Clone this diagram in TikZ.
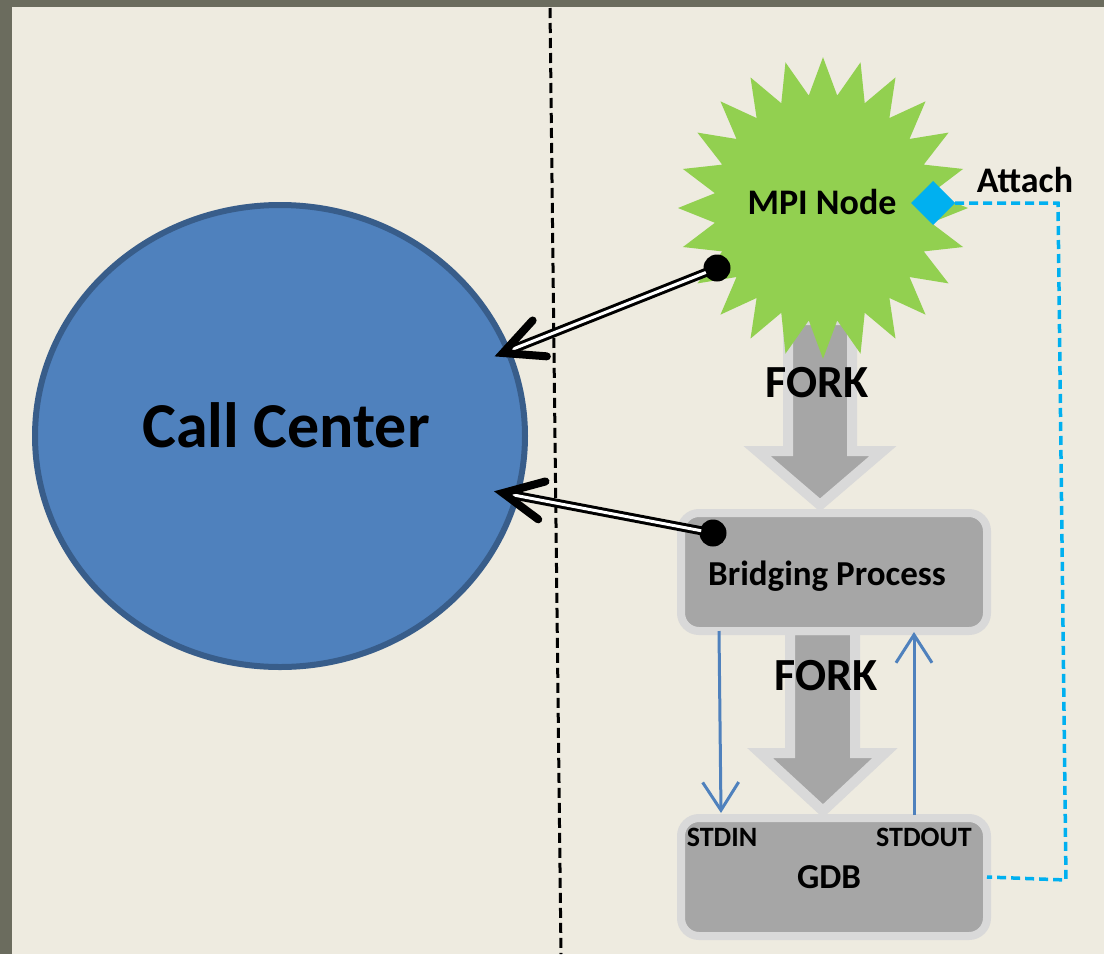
\documentclass[tikz,border=0pt]{standalone}
\usepackage{fontspec}
\setmainfont{Carlito}
\usetikzlibrary{shapes.geometric,arrows.meta,calc}
\definecolor{bg}{HTML}{EEEBE0}
\definecolor{framec}{HTML}{6B6C5E}
\definecolor{ccfill}{HTML}{4F81BD}
\definecolor{ccedge}{HTML}{385D8A}
\definecolor{mpigreen}{HTML}{92D050}
\definecolor{cyanx}{HTML}{00B0F0}
\definecolor{boxgray}{HTML}{A6A6A6}
\definecolor{glow}{HTML}{D9D9D9}
\definecolor{iob}{HTML}{4F81BD}
\begin{document}
\begin{tikzpicture}[x=1pt,y=-1pt,
  lbl/.style={inner sep=0, anchor=base, text=black},
  procbox/.style={rectangle, rounded corners=18pt, fill=boxgray, draw=glow, line width=8pt,
     minimum width=306pt, minimum height=118pt, inner sep=0, outer sep=0},
  forkarrow/.style={fill=boxgray, draw=glow, line width=10pt, line join=miter},
  dbl/.style={double=white, draw=black, line width=3pt, double distance=3pt},
  barb/.style={draw=black, line width=8pt, line cap=round, line join=miter},
  ioline/.style={draw=iob, line width=3pt, -{Straight Barb[length=28pt,width=36pt]}},
  attachline/.style={draw=cyanx, line width=3.5pt, dash pattern=on 9pt off 5pt},
  divider/.style={draw=black, line width=3pt, dash pattern=on 10pt off 5pt},
  dotnode/.style={circle, fill=black, minimum size=27pt, inner sep=0, outer sep=0}]
\useasboundingbox (0,0) rectangle (1104,954);
% background and frame
\fill[bg] (0,0) rectangle (1104,954);
\fill[framec] (0,0) rectangle (12,954);
\fill[framec] (0,0) rectangle (1104,7);
% divider
\draw[divider] (550,8) -- (561,954);
% call center
\node[ellipse, fill=ccfill, draw=ccedge, line width=6pt, minimum width=490pt, minimum height=462pt,
      inner sep=0, outer sep=0] (cc) at (280,436) {};
\node[lbl, font=\bfseries\fontsize{64}{70}\selectfont] (cclbl) at (286,447) {Call Center};
% fork arrow 1 (behind star)
\draw[forkarrow] (788,320) -- (852,320) -- (852,451) -- (883,451) -- (820,505) -- (757,451) -- (788,451) -- cycle;
% MPI star
\node[star, star points=24, star point ratio=1.33, minimum size=290pt, yscale=1.04,
      fill=mpigreen, inner sep=0, outer sep=0] (mpi) at (823,208) {};
\node[lbl, font=\bfseries\fontsize{36}{40}\selectfont] (mpilbl) at (822,214) {MPI Node};
\node[diamond, fill=cyanx, minimum size=44pt, inner sep=0, outer sep=0] (hook) at (933,203) {};
\node[lbl, font=\bfseries\fontsize{36}{40}\selectfont] (attachlbl) at (1025,192) {Attach};
\node[lbl, font=\bfseries\fontsize{46}{50}\selectfont] (fork1) at (817,397) {FORK};
% fork arrow 2
\draw[forkarrow] (790,630) -- (855,630) -- (855,753) -- (885,753) -- (823,811) -- (760,753) -- (790,753) -- cycle;
% boxes
\node[procbox] (bridge) at (834,572) {};
\node[lbl, font=\bfseries\fontsize{35}{40}\selectfont] (bridgelbl) at (827,585) {Bridging Process};
\node[procbox] (gdb) at (834,877) {};
\node[lbl, font=\bfseries\fontsize{35}{40}\selectfont] (gdblbl) at (829,888) {GDB};
\node[lbl, font=\bfseries\fontsize{28}{32}\selectfont] (stdin) at (722,846) {STDIN};
\node[lbl, font=\bfseries\fontsize{28}{32}\selectfont] (stdout) at (924,846) {STDOUT};
\node[lbl, font=\bfseries\fontsize{46}{50}\selectfont] (fork2) at (826,690) {FORK};
% io arrows
\draw[ioline] ([xshift=38pt]bridge.south west) -- ([xshift=40pt,yshift=5pt]gdb.north west);
\draw[ioline] ([xshift=233pt,yshift=3pt]gdb.north west) -- ([xshift=233pt,yshift=-1pt]bridge.south west);
% attach dashed connector
\coordinate (ac1) at (1058,203);
\coordinate (ac2) at (1066,880);
\draw[attachline] (hook.east) -- (ac1) -- (ac2) -- (gdb.east);
% double arrows to call center
\node[dotnode] (dot1) at (717,268) {};
\node[dotnode] (dot2) at (713,533) {};
\coordinate (t1) at (503,353);
\coordinate (t2) at (503,493);
\draw[dbl, shorten <=12pt, shorten >=3pt] (dot1.center) -- (t1);
\draw[dbl, shorten <=12pt, shorten >=3pt] (dot2.center) -- (t2);
\draw[barb] ($(t1)!44pt!26:(dot1)$) -- (t1) -- ($(t1)!44pt!-26:(dot1)$);
\draw[barb] ($(t2)!44pt!26:(dot2)$) -- (t2) -- ($(t2)!44pt!-26:(dot2)$);
\end{tikzpicture}
\end{document}
